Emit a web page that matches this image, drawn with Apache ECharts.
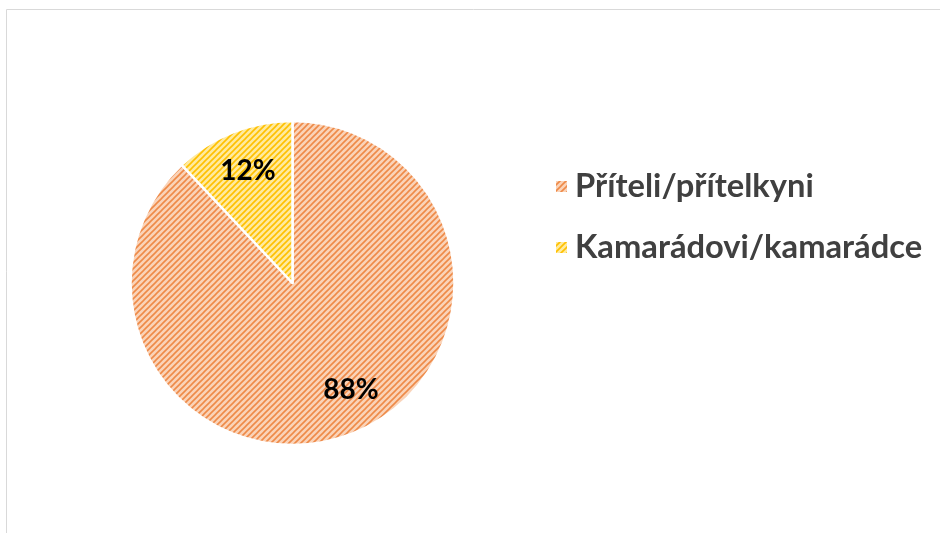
<!DOCTYPE html>
<html><head><meta charset="utf-8">
<script src="https://cdn.jsdelivr.net/npm/echarts@6/dist/echarts.min.js"></script>
<style>html,body{margin:0;padding:0;background:#fff}#c{width:940px;height:533px}</style>
</head><body><div id="c"></div>
<script>
var categories = ['Příteli/přítelkyni', 'Kamarádovi/kamarádce'];
var values = [88, 12];

function makePattern(base, stripe) {
  var s = 6;
  var c = document.createElement('canvas');
  c.width = s; c.height = s;
  var g = c.getContext('2d');
  g.fillStyle = base; g.fillRect(0, 0, s, s);
  g.strokeStyle = stripe; g.lineWidth = 1.6;
  g.beginPath();
  g.moveTo(-1, s + 1); g.lineTo(s + 1, -1);
  g.moveTo(-1, 1); g.lineTo(1, -1);
  g.moveTo(s - 1, s + 1); g.lineTo(s + 1, s - 1);
  g.stroke();
  return { image: c, repeat: 'repeat' };
}
var fills = [makePattern('#FAD3B8', '#EE8A48'), makePattern('#FFEA9E', '#FFC000')];

var chart = echarts.init(document.getElementById('c'));
var font = 'Lato, "Noto Sans", sans-serif';
chart.setOption({
  animation: false,
  graphic: [{ type: 'rect', shape: { x: 6.5, y: 9.5, width: 1000, height: 1000 }, style: { fill: 'none', stroke: '#D9D9D9', lineWidth: 1 }, silent: true }],
  legend: {
    orient: 'vertical', left: 549, top: 165, itemGap: 28,
    itemWidth: 13, itemHeight: 13, icon: 'rect',
    data: categories,
    textStyle: { fontFamily: font, fontWeight: 'bold', fontSize: 32.7, color: '#404040', padding: [0, 0, 0, 2] }
  },
  series: [{
    type: 'pie', center: [292.5, 283], radius: [0, 162], startAngle: 90, clockwise: true,
    itemStyle: { borderColor: '#fff', borderWidth: 2.5 },
    label: { show: false }, labelLine: { show: false },
    data: categories.map(function (n, i) { return { name: n, value: values[i], itemStyle: { color: fills[i] } }; })
  }, {
    type: 'pie', center: [292.5, 283], radius: [74, 162], startAngle: 90, clockwise: true, silent: true,
    itemStyle: { color: 'rgba(0,0,0,0)', borderWidth: 0 },
    label: { show: true, position: 'inside', formatter: '{d}%', fontFamily: font, fontWeight: 'bold', fontSize: 28, color: '#000' },
    labelLine: { show: false },
    labelLayout: function (p) { return p.dataIndex === 0 ? { dx: 14, dy: -6 } : { dx: 0, dy: 0 }; },
    data: categories.map(function (n, i) { return { name: n, value: values[i] }; })
  }]
});
</script></body></html>
